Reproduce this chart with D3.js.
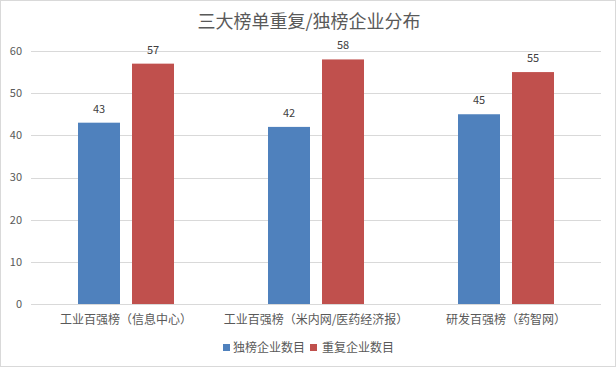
<!DOCTYPE html>
<html><head><meta charset="utf-8">
<script src="https://cdn.jsdelivr.net/npm/d3@7"></script>
<style>html,body{margin:0;padding:0;background:#fff;}svg{display:block;font-family:"Microsoft YaHei","Noto Sans CJK SC",sans-serif;}</style>
</head><body>
<script>
const title = "三大榜单重复/独榜企业分布";
const categories = ["工业百强榜（信息中心）", "工业百强榜（米内网/医药经济报）", "研发百强榜（药智网）"];
const seriesNames = ["独榜企业数目", "重复企业数目"];
const soloValues = [43, 42, 45];
const repeatValues = [57, 58, 55];
const yTicks = [0, 10, 20, 30, 40, 50, 60];
const colors = ["#4f81bd", "#c0504d"];

(function () {
const W = 616, H = 367;
const svg = d3.select("body").append("svg").attr("width", W).attr("height", H);
svg.append("rect").attr("x", 0.5).attr("y", 0.5).attr("width", W - 1).attr("height", H - 1)
  .attr("fill", "#fff").attr("stroke", "#d9d9d9");

const mLeft = 31, mRight = 601, mTop = 51, mBottom = 304;
const x = d3.scaleBand().domain(categories).range([mLeft, mRight]).paddingInner(0).paddingOuter(0);
const y = d3.scaleLinear().domain([0, 60]).range([mBottom, mTop]);
const x1 = d3.scaleBand().domain(seriesNames).range([47, 143]).paddingInner(2 / 9);

svg.append("g").selectAll("line").data(yTicks).join("line")
  .attr("x1", mLeft).attr("x2", mRight)
  .attr("y1", d => Math.round(y(d)) + 0.5).attr("y2", d => Math.round(y(d)) + 0.5)
  .attr("stroke", "#d9d9d9").attr("stroke-width", 1);

svg.append("g").selectAll("text").data(yTicks).join("text")
  .attr("x", 22).attr("y", d => y(d)).attr("dy", "0.35em").attr("text-anchor", "end")
  .attr("font-size", 11).attr("fill", "#595959").text(d => d);

const series = [soloValues, repeatValues];
series.forEach((vals, si) => {
  const g = svg.append("g");
  g.selectAll("rect").data(vals).join("rect")
    .attr("x", (d, i) => x(categories[i]) + x1(seriesNames[si]))
    .attr("width", x1.bandwidth())
    .attr("y", d => y(d)).attr("height", d => y(0) - y(d))
    .attr("fill", colors[si]);
  g.selectAll("text").data(vals).join("text")
    .attr("x", (d, i) => x(categories[i]) + x1(seriesNames[si]) + x1.bandwidth() / 2)
    .attr("y", d => y(d) - 10).attr("text-anchor", "middle")
    .attr("font-size", 11).attr("fill", "#404040").text(d => d);
});

svg.append("line").attr("x1", mLeft).attr("x2", mRight).attr("y1", Math.round(y(0)) + 0.5).attr("y2", Math.round(y(0)) + 0.5)
  .attr("stroke", "#d9d9d9");

svg.append("g").selectAll("text").data(categories).join("text")
  .attr("x", d => x(d) + x.bandwidth() / 2).attr("y", 324).attr("text-anchor", "middle")
  .attr("font-size", 12).attr("fill", "#595959").text(d => d);

svg.append("text").attr("x", W / 2 + 1).attr("y", 28).attr("text-anchor", "middle")
  .attr("font-size", 18).attr("fill", "#595959").text(title);

const lg = svg.append("g");
const legendX = [233, 322];
seriesNames.forEach((n, i) => {
  lg.append("rect").attr("x", legendX[i] - 10 - (i ? 2 : 0)).attr("y", 344).attr("width", 7).attr("height", 7).attr("fill", colors[i]);
  lg.append("text").attr("x", legendX[i]).attr("y", 352).attr("font-size", 12).attr("fill", "#595959").text(n);
});
})();
</script>
</body></html>
